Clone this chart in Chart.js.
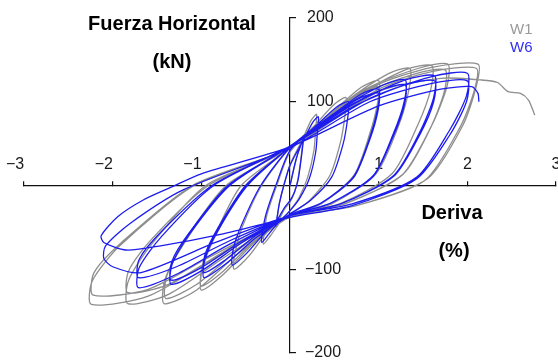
<!DOCTYPE html>
<html>
<head>
<meta charset="utf-8">
<script src="https://cdn.jsdelivr.net/npm/chart.js@4.4.0/dist/chart.umd.min.js"></script>
<style>
  html, body { margin: 0; padding: 0; background: #fff; }
  #wrap { width: 558px; height: 362px; }
</style>
</head>
<body>
<div id="wrap"><canvas id="loops"></canvas></div>
<script>
const seriesNames = ['W1', 'W6'];
const driftTicks = [-3, -2, -1, 0, 1, 2, 3];
const forceTicks = [200, 100, -100, -200];

// W1: [deriva %, fuerza kN], ciclos crecientes + rama final
const w1 = [
  [0, 0], [0.08, 35], [0.15, 60],
  [0.14, 48], [0.12, 30], [0.09, 8], [0.05, -8], [0, -20], [-0.06, -28], [-0.11, -38], [-0.15, -45],
  [-0.14, -36], [-0.12, -22], [-0.07, 0], [0, 25], [0.14, 55], [0.24, 78], [0.3, 85],
  [0.29, 68], [0.27, 42], [0.2, 10], [0.1, -15], [0, -30], [-0.12, -45], [-0.22, -60], [-0.3, -70],
  [-0.29, -56], [-0.26, -35], [-0.15, 0], [0, 40], [0.28, 72], [0.5, 97], [0.63, 105],
  [0.62, 84], [0.57, 52], [0.45, 12], [0.22, -18], [0, -35], [-0.25, -55], [-0.47, -85], [-0.63, -100],
  [-0.62, -80], [-0.54, -50], [-0.32, 0], [0, 45], [0.45, 85], [0.8, 117], [1.0, 125],
  [0.99, 100], [0.9, 62], [0.72, 12], [0.35, -22], [0, -37], [-0.4, -68], [-0.75, -106], [-1.0, -125],
  [-0.99, -100], [-0.85, -62], [-0.5, 0], [0, 45], [0.45, 85], [0.8, 110], [1.0, 118],
  [0.99, 94], [0.9, 58], [0.72, 10], [0.35, -22], [0, -36], [-0.4, -66], [-0.75, -102], [-1.0, -120],
  [-0.99, -96], [-0.85, -60], [-0.55, 0], [0, 45], [0.6, 98], [1.1, 133], [1.35, 140],
  [1.34, 114], [1.22, 70], [0.97, 14], [0.47, -22], [0, -37], [-0.56, -75], [-1.05, -118], [-1.4, -135],
  [-1.39, -108], [-1.2, -68], [-0.72, 0], [0, 45], [0.72, 105], [1.3, 138], [1.6, 143],
  [1.59, 116], [1.44, 72], [1.15, 14], [0.56, -22], [0, -37], [-0.57, -80], [-1.07, -126], [-1.42, -141],
  [-1.41, -112], [-1.2, -70], [-0.72, 0], [0, 45], [0.8, 112], [1.45, 140], [1.78, 145],
  [1.77, 118], [1.6, 72], [1.28, 14], [0.62, -22], [0, -37], [-0.73, -78], [-1.37, -118], [-1.83, -128],
  [-1.82, -102], [-1.56, -64], [-0.92, 0], [0, 45], [0.8, 108], [1.4, 133], [1.75, 138],
  [1.74, 112], [1.58, 68], [1.26, 12], [0.61, -22], [0, -37], [-0.73, -85], [-1.37, -130], [-1.83, -141],
  [-1.82, -113], [-1.56, -70], [-0.95, 0], [0, 45], [0.95, 118], [1.6, 141], [2.12, 145],
  [2.1, 118], [1.95, 72], [1.55, 8], [0.75, -24], [0, -38], [-0.9, -85], [-1.6, -124], [-2.22, -131],
  [-2.21, -104], [-1.9, -68], [-1.1, 0], [0, 45], [1.0, 115], [1.6, 136], [2.1, 140],
  [2.08, 114], [1.92, 70], [1.52, 6], [0.75, -24], [0, -38], [-0.9, -90], [-1.6, -132], [-2.24, -142],
  [-2.23, -114], [-1.92, -72], [-1.08, 0], [0, 45], [1.0, 112], [1.7, 128], [2.15, 126],
  [2.34, 123], [2.46, 112], [2.6, 110], [2.69, 102], [2.75, 87], [2.76, 84]
];

// W6: [deriva %, fuerza kN]
const w6 = [
  [0, 0], [0.07, 32], [0.15, 55],
  [0.14, 44], [0.12, 27], [0.09, 6], [0.05, -8], [0, -18], [-0.06, -26], [-0.11, -35], [-0.15, -42],
  [-0.14, -34], [-0.12, -21], [-0.07, 0], [0, 24], [0.14, 52], [0.26, 76], [0.32, 82],
  [0.31, 66], [0.29, 40], [0.22, 9], [0.11, -15], [0, -30], [-0.13, -44], [-0.24, -58], [-0.32, -68],
  [-0.31, -55], [-0.27, -34], [-0.16, 0], [0, 42], [0.3, 72], [0.53, 94], [0.66, 100],
  [0.65, 80], [0.6, 50], [0.47, 10], [0.23, -18], [0, -34], [-0.26, -54], [-0.49, -81], [-0.65, -95],
  [-0.64, -76], [-0.55, -48], [-0.33, 0], [0, 45], [0.45, 82], [0.8, 109], [1.0, 115],
  [0.99, 92], [0.9, 57], [0.72, 11], [0.35, -21], [0, -36], [-0.39, -63], [-0.73, -94], [-0.97, -110],
  [-0.96, -88], [-0.82, -55], [-0.48, 0], [0, 46], [0.45, 82], [0.8, 105], [1.0, 110],
  [0.99, 88], [0.9, 55], [0.72, 10], [0.35, -21], [0, -35], [-0.39, -60], [-0.73, -89], [-0.97, -104],
  [-0.96, -83], [-0.82, -52], [-0.5, 0], [0, 46], [0.58, 92], [1.05, 120], [1.3, 126],
  [1.29, 101], [1.17, 63], [0.94, 12], [0.46, -21], [0, -36], [-0.54, -68], [-1.0, -102], [-1.34, -118],
  [-1.33, -94], [-1.14, -59], [-0.68, 0], [0, 47], [0.58, 90], [1.05, 115], [1.3, 120],
  [1.29, 96], [1.17, 60], [0.94, 11], [0.46, -21], [0, -36], [-0.54, -66], [-1.0, -98], [-1.34, -113],
  [-1.33, -90], [-1.14, -57], [-0.7, 0], [0, 47], [0.73, 98], [1.3, 126], [1.63, 131],
  [1.62, 105], [1.47, 65], [1.17, 12], [0.57, -22], [0, -36], [-0.68, -70], [-1.28, -106], [-1.71, -122],
  [-1.7, -98], [-1.45, -61], [-0.86, 0], [0, 47], [0.73, 95], [1.3, 120], [1.63, 125],
  [1.62, 100], [1.47, 62], [1.17, 11], [0.57, -22], [0, -36], [-0.68, -66], [-1.28, -97], [-1.71, -110],
  [-1.7, -88], [-1.45, -55], [-0.88, 0], [0, 47], [0.9, 104], [1.6, 130], [2.0, 134],
  [1.99, 107], [1.8, 66], [1.43, 10], [0.7, -22], [0, -36], [-0.84, -68], [-1.68, -104], [-2.0, -97], [-2.1, -87],
  [-2.08, -72], [-1.8, -45], [-1.2, -5], [0, 45], [0.9, 100], [1.6, 122], [2.0, 125],
  [1.99, 100], [1.8, 60], [1.43, 8], [0.7, -24], [0, -38], [-0.77, -58], [-1.46, -72], [-1.85, -77], [-2.1, -68], [-2.13, -60],
  [-1.94, -37], [-1.65, -17], [-1.34, -2], [-1.0, 14], [0, 46], [1.0, 95], [1.7, 115], [2.05, 118], [2.12, 110], [2.13, 100]
];

const FONT = "'Liberation Sans', Arial, sans-serif";
const W1_COLOR = '#8e8e8e';
const W6_COLOR = '#1c1cf0';

const signed = v => (v < 0 ? '\u2212' + Math.abs(v) : String(v));
const toPoints = arr => arr.map(([x, y]) => ({x, y}));

// axis titles, legend text and the force labels sitting right of the y axis
const annotations = {
  id: 'annotations',
  afterDraw(chart) {
    const {ctx, scales: {x, y}} = chart;
    const x0 = x.getPixelForValue(0);
    ctx.save();
    ctx.textBaseline = 'middle';

    ctx.font = '16px ' + FONT;
    ctx.fillStyle = '#1a1a1a';
    ctx.textAlign = 'left';
    forceTicks.forEach(v => {
      ctx.fillText(signed(v), x0 + (v < 0 ? 15 : 17), y.getPixelForValue(v));
    });

    ctx.font = 'bold 20px ' + FONT;
    ctx.fillStyle = '#000';
    ctx.textAlign = 'center';
    ctx.fillText('Fuerza Horizontal', 172, 24);
    ctx.fillText('(kN)', 172, 62);
    ctx.fillText('Deriva', 452, 213);
    ctx.fillText('(%)', 454, 251);

    ctx.font = '15px ' + FONT;
    ctx.textAlign = 'left';
    ctx.fillStyle = '#9a9a9a';
    ctx.fillText(seriesNames[0], 510, 30);
    ctx.fillStyle = '#3030f0';
    ctx.fillText(seriesNames[1], 510, 48);
    ctx.restore();
  }
};

new Chart(document.getElementById('loops'), {
  type: 'scatter',
  plugins: [annotations],
  data: {
    datasets: [{
      label: seriesNames[0],
      data: toPoints(w1),
      showLine: true,
      borderColor: W1_COLOR,
      borderWidth: 1.3,
      pointRadius: 0,
      tension: 0.25,
      order: 2
    }, {
      label: seriesNames[1],
      data: toPoints(w6),
      showLine: true,
      borderColor: W6_COLOR,
      borderWidth: 1.3,
      pointRadius: 0,
      tension: 0.25,
      order: 1
    }]
  },
  options: {
    responsive: true,
    maintainAspectRatio: false,
    animation: false,
    layout: {
      padding: {left: 24, right: 2, top: 18, bottom: 9}
    },
    plugins: {
      legend: {display: false},
      tooltip: {enabled: false}
    },
    scales: {
      x: {
        type: 'linear',
        min: -3,
        max: 3,
        position: {y: 0},
        afterBuildTicks: scale => { scale.ticks = driftTicks.map(v => ({value: v})); },
        border: {display: true, color: '#111', width: 1.2},
        grid: {drawOnChartArea: false, drawTicks: true, tickLength: -5, color: '#111', lineWidth: 1.2},
        ticks: {
          autoSkip: false,
          maxRotation: 0,
          padding: -26,
          color: '#1a1a1a',
          font: {family: FONT, size: 16},
          callback: v => (v === 0 ? '' : v < 0 ? signed(v) + '    ' : String(v))
        }
      },
      y: {
        type: 'linear',
        min: -200,
        max: 200,
        position: {x: 0},
        afterBuildTicks: scale => { scale.ticks = forceTicks.map(v => ({value: v})); },
        border: {display: true, color: '#111', width: 1.2},
        grid: {drawOnChartArea: false, drawTicks: true, tickLength: -7, color: '#111', lineWidth: 1.2},
        ticks: {display: false}
      }
    }
  }
});
</script>
</body>
</html>
